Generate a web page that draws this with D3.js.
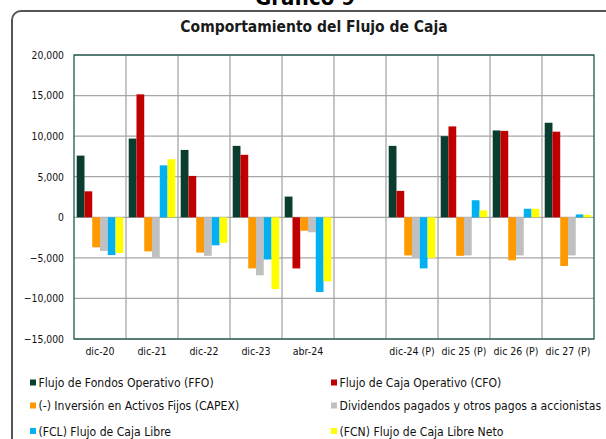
<!DOCTYPE html>
<html>
<head>
<meta charset="utf-8">
<script src="https://cdn.jsdelivr.net/npm/d3@7"></script>
<style>
body { margin: 0; background: #fff; }
text { font-family: "DejaVu Sans Condensed", "DejaVu Sans", sans-serif; }
</style>
</head>
<body>
<script>
// categorias (la sexta queda vacia, separa reales de proyectados)
var categories = ["dic-20", "dic-21", "dic-22", "dic-23", "abr-24", "", "dic-24 (P)", "dic 25 (P)", "dic 26 (P)", "dic 27 (P)"];
var seriesNames = ["Flujo de Fondos Operativo (FFO)", "Flujo de Caja Operativo (CFO)", "(-) Inversión en Activos Fijos (CAPEX)", "Dividendos pagados y otros pagos a accionistas", "(FCL) Flujo de Caja Libre", "(FCN) Flujo de Caja Libre Neto"];
var seriesColors = ["#0a3d2f", "#c00000", "#ff9900", "#c0c0c0", "#00b0f0", "#ffff00"];
var ffo = [7600, 9700, 8300, 8800, 2550, null, 8800, 10000, 10700, 11650];
var cfo = [3200, 15150, 5100, 7700, -6300, null, 3250, 11200, 10650, 10550];
var capex = [-3700, -4200, -4350, -6300, -1650, null, -4700, -4750, -5300, -6000];
var dividendos = [-4150, -5000, -4750, -7150, -1850, null, -5050, -4700, -4700, -4700];
var fcl = [-4650, 6400, -3450, -5200, -9200, null, -6300, 2100, 1050, 350];
var fcn = [-4400, 7150, -3150, -8850, -7900, null, -5000, 850, 1050, 300];
var yTicks = [-15000, -10000, -5000, 0, 5000, 10000, 15000, 20000];

var W = 606, H = 439;
var series = [ffo, cfo, capex, dividendos, fcl, fcn];
var svg = d3.select("body").append("svg").attr("width", W).attr("height", H);

// marco redondeado
svg.append("rect").attr("x", 12).attr("y", 11).attr("width", 640).attr("height", 460).attr("rx", 9).attr("fill", "none").attr("stroke", "#555").attr("stroke-width", 2);
svg.append("text").attr("x", 305).attr("y", 5).attr("text-anchor", "middle").attr("font-size", 22).attr("font-weight", "bold").text("Gráfico 9");
svg.append("text").attr("x", 314).attr("y", 31.5).attr("text-anchor", "middle").attr("font-size", 15.5).attr("font-weight", "bold").attr("fill", "#1a1a1a").text("Comportamiento del Flujo de Caja");

var pl = 74, pr = 594, pt = 55, pb = 339;
var x = d3.scaleBand().domain(d3.range(categories.length)).range([pl, pr]);
var xs = d3.scaleBand().domain(d3.range(series.length)).range([0, x.bandwidth()]).paddingOuter(0.35);
var y = d3.scaleLinear().domain([-15000, 20000]).range([pb, pt]);

var grid = svg.append("g");
grid.selectAll("line.h").data(yTicks).enter().append("line").attr("x1", pl).attr("x2", pr).attr("y1", function (d) { return y(d); }).attr("y2", function (d) { return y(d); }).attr("stroke", "#a6a6a6").attr("stroke-width", 1.3);
grid.selectAll("line.v").data(d3.range(1, categories.length)).enter().append("line").attr("x1", function (d) { return x(d); }).attr("x2", function (d) { return x(d); }).attr("y1", pt).attr("y2", pb).attr("stroke", "#a6a6a6").attr("stroke-width", 1.3);

var barData = [];
series.forEach(function (vals, si) {
	vals.forEach(function (v, ci) { if (v !== null) barData.push({ s: si, c: ci, v: v }); });
});
svg.append("g").selectAll("rect").data(barData).enter().append("rect")
	.attr("x", function (d) { return x(d.c) + xs(d.s); })
	.attr("width", xs.bandwidth())
	.attr("y", function (d) { return y(Math.max(0, d.v)); })
	.attr("height", function (d) { return Math.abs(y(d.v) - y(0)); })
	.attr("fill", function (d) { return seriesColors[d.s]; });

svg.append("rect").attr("x", pl).attr("y", pt).attr("width", pr - pl).attr("height", pb - pt).attr("fill", "none").attr("stroke", "#1f5a52").attr("stroke-width", 1.3);

var yAxis = svg.append("g").attr("transform", "translate(" + pl + ",0)").call(d3.axisLeft(y).tickValues(yTicks).tickFormat(d3.format(",")).tickSize(0).tickPadding(10));
yAxis.select(".domain").remove();
yAxis.selectAll("text").attr("font-size", 10.3).attr("fill", "#111").style("font-family", "DejaVu Sans Condensed, sans-serif");

var xAxis = svg.append("g").attr("transform", "translate(0," + pb + ")").call(d3.axisBottom(x).tickFormat(function (i) { return categories[i]; }).tickSize(0).tickPadding(9));
xAxis.select(".domain").remove();
xAxis.selectAll("text").attr("font-size", 10.5).attr("fill", "#111").style("font-family", "DejaVu Sans Condensed, sans-serif");

// leyenda
var legendRows = [382.5, 405.5, 431];
var legend = svg.append("g").selectAll("g").data(seriesNames).enter().append("g")
	.attr("transform", function (d, i) { return "translate(" + (i % 2 ? 331 : 30) + "," + legendRows[Math.floor(i / 2)] + ")"; });
legend.append("rect").attr("x", 0).attr("y", -3).attr("width", 6).attr("height", 6).attr("fill", function (d, i) { return seriesColors[i]; });
legend.append("text").attr("x", 8.5).attr("y", 4.5).attr("font-size", 12.1).attr("fill", "#111").text(function (d) { return d; });
</script>
</body>
</html>
